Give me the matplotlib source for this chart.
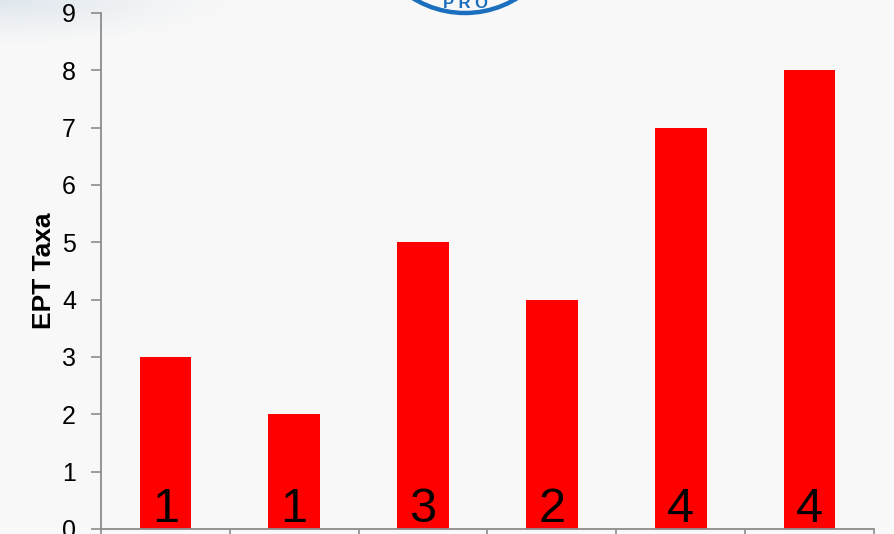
import numpy as np
import matplotlib.pyplot as plt
from matplotlib.patches import Circle

plt.rcParams['font.family'] = ['Liberation Sans', 'DejaVu Sans']

sites = ['A', 'B', 'C', 'D', 'E', 'F']
ept_taxa = [3, 2, 5, 4, 7, 8]
counts = [1, 1, 3, 2, 4, 4]

bg = '#f8f8f8'
fig = plt.figure(figsize=(8.95, 5.34), dpi=100, facecolor=bg)

# soft haze along the top-left edge
haze = fig.add_axes([0, 0, 1, 1], zorder=0)
haze.axis('off')
h, w = 534, 895
yy, xx = np.mgrid[0:h, 0:w]
d = np.sqrt((xx / 230.0) ** 2 + (yy / 45.0) ** 2)
alpha = np.clip(1 - d, 0, 1) ** 1.2 * 0.75
img = np.zeros((h, w, 4))
img[..., 0] = 0.84
img[..., 1] = 0.88
img[..., 2] = 0.92
img[..., 3] = alpha
haze.imshow(img, extent=[0, w, h, 0], aspect='auto')
haze.set_xlim(0, w)
haze.set_ylim(h, 0)

# logo ring peeking in at the top
ring = Circle((465, -86), 99, fill=False, edgecolor='#1b6fbd', linewidth=3.2)
haze.add_patch(ring)
haze.text(466, 8, 'P R O', color='#1b6fbd', fontsize=12, fontweight='bold',
          ha='center', va='baseline')

ax = fig.add_axes([101 / w, 5 / h, (874 - 101) / w, (529 - 13) / h], zorder=1)
ax.set_facecolor('none')

x = np.arange(len(sites))
bars = ax.bar(x, ept_taxa, width=0.4, color='#ff0000', zorder=2)
for xi, c in zip(x, counts):
    ax.text(xi, 0.12, str(c), ha='center', va='baseline', fontsize=35, color='black')

ax.set_xlim(-0.5, len(sites) - 0.5)
ax.set_ylim(0, 9)
ax.set_yticks(range(0, 10))
ax.set_xticks([])
ax.set_xticks(np.arange(-0.5, len(sites)), minor=True)
ax.tick_params(axis='x', which='minor', length=12, color='#8c8c8c', width=1.2)
ax.tick_params(axis='y', length=7, color='#8c8c8c', width=1.2, pad=11, labelsize=18)

for s in ['top', 'right']:
    ax.spines[s].set_visible(False)
for s in ['left', 'bottom']:
    ax.spines[s].set_color('#8c8c8c')
    ax.spines[s].set_linewidth(1.3)

ax.set_ylabel('EPT Taxa', fontsize=19, fontweight='bold', labelpad=4)

fig.savefig('out.png', dpi=100, facecolor=bg)
